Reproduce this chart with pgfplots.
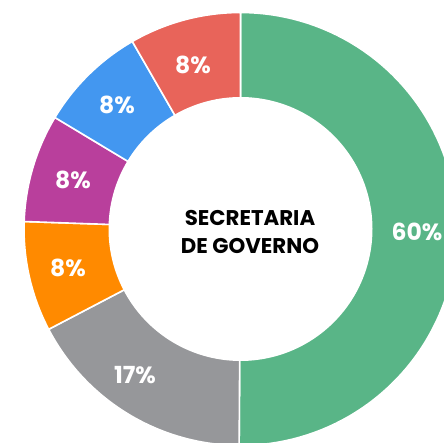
\documentclass[border=0pt]{standalone}
\usepackage{pgfplots}
\pgfplotsset{compat=1.18}
\usepackage{fontspec}
\setmainfont{Poppins}[BoldFont={* Bold}]

\definecolor{cgreen}{HTML}{59B587}
\definecolor{cgray}{HTML}{96979A}
\definecolor{corange}{HTML}{FF8A00}
\definecolor{cpurple}{HTML}{B93F9C}
\definecolor{cblue}{HTML}{4397F0}
\definecolor{cred}{HTML}{E8645A}

% slice shares (as drawn, in percent of the circle)
\def\vGreen{50.1}
\def\vGray{17.23}
\def\vOrange{8.22}
\def\vPurple{8.06}
\def\vBlue{8.06}
\def\vRed{8.33}

\def\Rout{216.5}
\def\Rin{132}

\begin{document}
\begin{tikzpicture}
\pgfmathsetmacro\aA{90-3.6*\vGreen}
\pgfmathsetmacro\aB{\aA-3.6*\vGray}
\pgfmathsetmacro\aC{\aB-3.6*\vOrange}
\pgfmathsetmacro\aD{\aC-3.6*\vPurple}
\pgfmathsetmacro\aE{\aD-3.6*\vBlue}
\pgfmathsetmacro\aF{\aE-3.6*\vRed}
\begin{axis}[
  name=donut,
  scale only axis,
  width=444pt, height=443pt,
  xmin=-240.5, xmax=203.5,
  ymin=-214, ymax=229,
  hide axis,
  clip bounding box=upper bound,
  samples=90,
  variable=\t,
  every axis plot/.append style={draw=white, line width=1.6pt, line join=round},
]
\addplot[fill=cgreen, domain=\aA:90] ({\Rout*cos(\t)},{\Rout*sin(\t)}) -- (axis cs:0,0) -- cycle;
\addplot[fill=cgray, domain=\aB:\aA] ({\Rout*cos(\t)},{\Rout*sin(\t)}) -- (axis cs:0,0) -- cycle;
\addplot[fill=corange, domain=\aC:\aB] ({\Rout*cos(\t)},{\Rout*sin(\t)}) -- (axis cs:0,0) -- cycle;
\addplot[fill=cpurple, domain=\aD:\aC] ({\Rout*cos(\t)},{\Rout*sin(\t)}) -- (axis cs:0,0) -- cycle;
\addplot[fill=cblue, domain=\aE:\aD] ({\Rout*cos(\t)},{\Rout*sin(\t)}) -- (axis cs:0,0) -- cycle;
\addplot[fill=cred, domain=\aF:\aE] ({\Rout*cos(\t)},{\Rout*sin(\t)}) -- (axis cs:0,0) -- cycle;
% hole
\addplot[fill=white, draw=none, domain=0:360, samples=180] ({\Rin*cos(\t)},{\Rin*sin(\t)}) -- cycle;

\begin{scope}[every node/.style={font=\bfseries\fontsize{23.5}{26}\selectfont, text=white}]
\node at (axis cs:176.5,-3) {60\%};
\node at (axis cs:-105.5,-146) {17\%};
\node at (axis cs:-172.5,-39) {8\%};
\node at (axis cs:-167.5,49) {8\%};
\node at (axis cs:-123.5,124) {8\%};
\node at (axis cs:-47.5,164) {8\%};
\end{scope}
\node[font=\bfseries\fontsize{21.3}{28}\selectfont, align=center, text=black]
  at (axis cs:9.5,-3) {SECRETARIA\\DE GOVERNO};
\end{axis}
\pgfresetboundingbox
\path[use as bounding box] (donut.south west) rectangle (donut.north east);
\end{tikzpicture}
\end{document}
